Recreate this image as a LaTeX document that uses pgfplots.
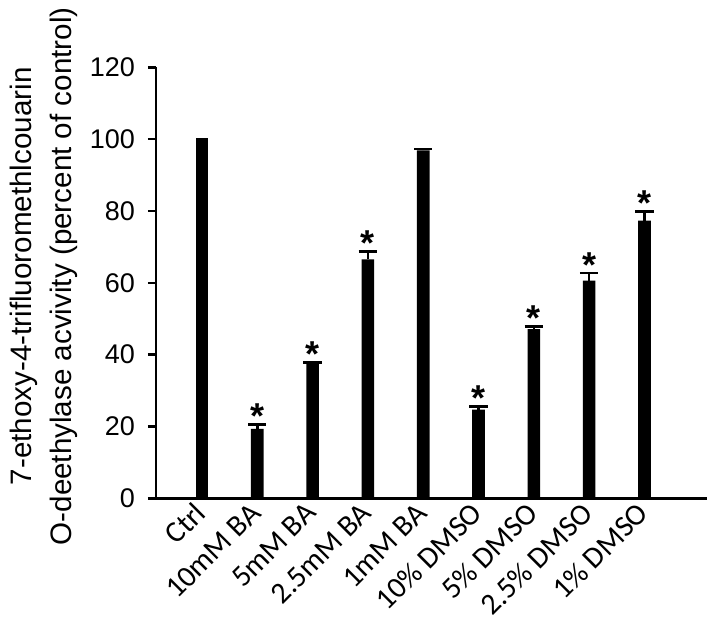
\documentclass[border=0pt]{standalone}
\usepackage{fontspec}
\setmainfont{Liberation Sans}
\newfontfamily\calibrifont{Carlito}
\usepackage{pgfplots}
\pgfplotsset{compat=1.18}
\usetikzlibrary{calc}
\begin{document}
\begin{tikzpicture}
\begin{axis}[
  scale only axis, width=275.5pt, height=215.5pt,
  xmin=-0.83, xmax=9.13, ymin=0, ymax=120,
  axis lines=left, axis line style={-, line width=1.3pt},
  ytick={0,20,...,120}, tick align=outside, major tick length=4pt,
  ytick style={line width=1.3pt, black},
  xtick={0,...,8}, xtick style={draw=none},
  xticklabels={Ctrl,10mM BA,5mM BA,2.5mM BA,1mM BA,10\% DMSO,5\% DMSO,2.5\% DMSO,1\% DMSO},
  xticklabel style={font=\calibrifont\fontsize{15}{17}\selectfont, rotate=45, anchor=east, inner sep=1pt},
  yticklabel style={font=\fontsize{13.5}{16}\selectfont, xshift=-3pt},
  /pgf/number format/assume math mode=true,
  clip=false,
]
% control bar, no error bar
\addplot[ybar, bar width=6.3pt, fill=black, draw=none] coordinates {(0,100.2)};
\addplot[ybar, bar width=6.3pt, fill=black, draw=none,
  error bars/.cd, y dir=plus, y explicit,
  error bar style={line width=1.3pt, black},
  error mark options={rotate=90, line width=1.2pt, mark size=4.6pt, black}]
  coordinates {
  (1,19.3) +- (0,1.2)
  (2,37.5) +- (0,0.3)
  (3,66.5) +- (0,2.2)
  (4,96.9) +- (0,0.3)
  (5,24.7) +- (0,0.9)
  (6,47.1) +- (0,0.7)
  (7,60.6) +- (0,2.1)
  (8,77.3) +- (0,2.5)
  };
% asterisks above the error caps
\addplot[draw=none, mark=none, nodes near coords, point meta=explicit symbolic,
  nodes near coords style={anchor=base, inner sep=0pt, yshift=-2pt, font=\bfseries\fontsize{18}{18}\selectfont}]
  coordinates {
  (1,20.5) [*]
  (2,37.8) [*]
  (3,68.7) [*]
  (5,25.6) [*]
  (6,47.8) [*]
  (7,62.7) [*]
  (8,79.8) [*]
  };
\coordinate (O) at (rel axis cs:0,0);
\node[xshift=-39pt, rotate=90, anchor=south, align=center, inner sep=0pt,
  font=\fontsize{14.8}{20}\selectfont] at (rel axis cs:0,0.515)
  {7-ethoxy-4-trifluoromethlcouarin\\O-deethylase acvivity (percent of control)};
\end{axis}
\pgfresetboundingbox
\useasboundingbox ($(O)+(-78pt,-61.85pt)$) rectangle ($(O)+(279pt,249.15pt)$);
\end{tikzpicture}
\end{document}
